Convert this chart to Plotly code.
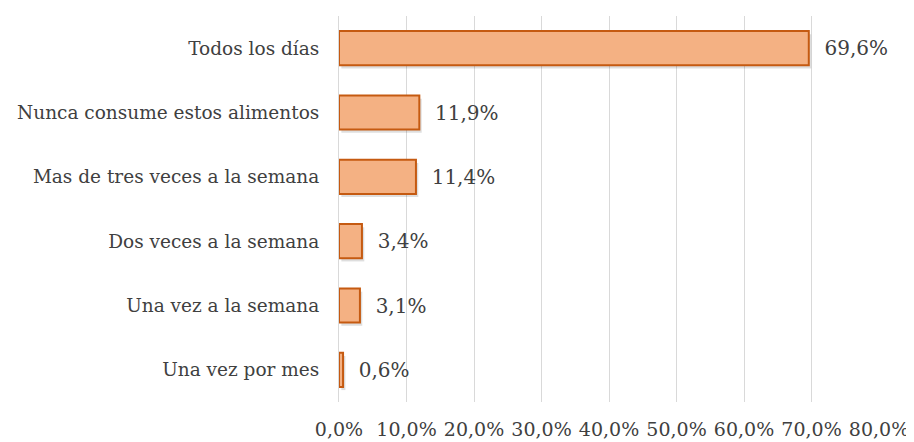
import plotly.graph_objects as go

categories = [
    "Todos los días",
    "Nunca consume estos alimentos",
    "Mas de tres veces a la semana",
    "Dos veces a la semana",
    "Una vez a la semana",
    "Una vez por mes",
]
values = [69.6, 11.9, 11.4, 3.4, 3.1, 0.6]
tick_vals = [0, 10, 20, 30, 40, 50, 60, 70, 80]
tick_labels = ["0,0%", "10,0%", "20,0%", "30,0%", "40,0%", "50,0%", "60,0%", "70,0%", "80,0%"]

FONT = "DejaVu Serif"
TXT = "#404040"
BAR_W = 0.53

fig = go.Figure()
# soft drop shadow behind the bars
fig.add_trace(go.Bar(
    y=categories,
    x=values,
    base=0.35,
    orientation="h",
    width=BAR_W,
    offset=-BAR_W / 2 + 0.05,
    marker=dict(color="rgba(0,0,0,0.13)", line=dict(width=0)),
    hoverinfo="skip",
))
fig.add_trace(go.Bar(
    y=categories,
    x=values,
    orientation="h",
    width=BAR_W,
    offset=-BAR_W / 2,
    marker=dict(color="#F4B183", line=dict(color="#C55A11", width=2)),
    texttemplate="  %{x:.1f}%",
    textposition="outside",
    textfont=dict(family=FONT, size=20, color=TXT),
    cliponaxis=False,
))

fig.update_layout(
    template="none",
    barmode="overlay",
    width=906,
    height=434,
    margin=dict(l=331, r=35, t=8, b=40),
    paper_bgcolor="white",
    plot_bgcolor="white",
    separators=",.",
    showlegend=False,
    font=dict(family=FONT, size=18.5, color=TXT),
    xaxis=dict(
        automargin=False,
        range=[0, 80],
        tickvals=tick_vals,
        ticktext=tick_labels,
        showgrid=True,
        gridcolor="#D9D9D9",
        gridwidth=1,
        zeroline=False,
        showline=False,
        ticks="",
        ticklabelstandoff=14,
        tickfont=dict(family=FONT, size=19, color=TXT),
    ),
    yaxis=dict(
        automargin=False,
        categoryorder="array",
        categoryarray=categories,
        autorange="reversed",
        showgrid=False,
        zeroline=False,
        showline=True,
        linecolor="#D9D9D9",
        linewidth=1,
        ticks="",
        ticklabelstandoff=15,
        tickfont=dict(family=FONT, size=18.5, color=TXT),
    ),
)

fig.write_html("out.html")
